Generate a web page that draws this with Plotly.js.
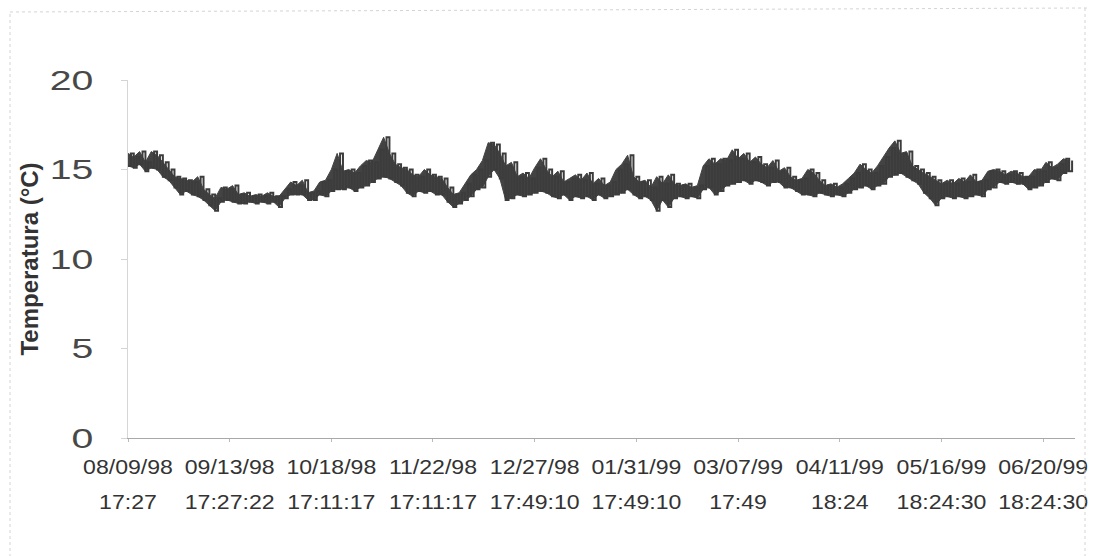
<!DOCTYPE html>
<html><head><meta charset="utf-8">
<script src="https://cdn.plot.ly/plotly-3.0.1.min.js"></script>
<style>html,body{margin:0;padding:0;background:#fff}</style>
</head><body><div id="chart" style="width:1095px;height:556px"></div>
<script>
// ---- data ----
const tickDates = ['1998-08-09 17:27', '1998-09-13 17:27:22', '1998-10-18 17:11:17', '1998-11-22 17:11:17',
  '1998-12-27 17:49:10', '1999-01-31 17:49:10', '1999-03-07 17:49', '1999-04-11 18:24',
  '1999-05-16 18:24:30', '1999-06-20 18:24:30'];
const tickDateLabels = ['08/09/98', '09/13/98', '10/18/98', '11/22/98', '12/27/98', '01/31/99', '03/07/99', '04/11/99', '05/16/99', '06/20/99'];
const tickTimeLabels = ['17:27', '17:27:22', '17:11:17', '17:11:17', '17:49:10', '17:49:10', '17:49', '18:24', '18:24:30', '18:24:30'];
const yTicks = [0, 5, 10, 15, 20];
const seriesStart = '1998-08-09 17:27';
const seriesEnd = '1999-07-01 17:27';
const sampleStepDays = 2;
// lowest and highest temperature read in each 2-day slice
const tempLow = [15.2,15.1,15.3,14.9,15.1,15.0,14.6,14.4,14.0,13.6,13.8,13.6,13.5,13.3,13.0,12.7,13.2,13.3,13.2,13.1,
  13.1,13.2,13.1,13.2,13.1,13.2,12.9,13.4,13.6,13.6,13.6,13.3,13.3,13.6,13.5,13.8,13.9,13.9,14.0,13.8,
  14.0,14.1,14.3,14.5,14.6,14.5,14.3,14.1,13.7,13.5,13.8,13.7,13.8,13.6,13.6,13.2,12.9,13.1,13.3,13.5,
  13.9,14.0,14.6,15.0,14.5,13.3,13.4,13.6,13.5,13.6,13.7,13.8,13.7,13.5,13.4,13.6,13.3,13.5,13.4,13.5,
  13.3,13.6,13.4,13.5,13.6,13.7,13.9,13.6,13.4,13.5,13.3,12.7,13.3,12.9,13.4,13.5,13.4,13.5,13.4,13.9,
  14.0,13.6,13.8,14.1,14.2,14.3,14.4,14.2,14.4,14.3,14.1,14.3,14.3,14.0,14.0,13.8,13.6,13.6,13.5,13.7,
  13.6,13.5,13.6,13.5,13.7,13.9,14.0,14.1,13.9,14.1,14.2,14.6,14.7,14.8,14.6,14.4,14.2,13.7,13.4,13.0,
  13.4,13.5,13.4,13.5,13.4,13.5,13.6,13.5,13.9,14.0,14.3,14.2,14.3,14.2,14.2,13.9,14.0,14.1,14.3,14.5,
  14.4,14.8,14.9];
const tempHigh = [15.9,15.7,16.0,15.4,16.0,15.8,15.4,15.0,14.6,14.5,14.4,14.3,14.6,13.9,13.6,13.4,14.0,13.9,14.1,13.6,
  13.7,13.5,13.6,13.5,13.7,13.5,13.5,13.9,14.3,14.1,14.4,13.7,13.8,14.3,14.4,15.0,15.9,14.9,15.0,14.8,
  15.2,15.5,15.4,16.1,16.8,15.9,15.3,15.1,15.0,14.7,14.6,15.0,14.7,14.6,14.5,14.0,13.6,13.7,14.2,14.7,
  15.0,15.5,16.5,16.4,15.9,15.2,15.4,14.6,14.8,14.5,15.1,15.6,15.0,14.6,14.9,14.3,14.5,14.7,14.4,14.8,
  14.2,14.5,14.1,14.3,15.0,15.3,15.8,14.6,14.3,14.4,14.0,14.6,14.2,14.7,14.2,14.1,14.2,14.0,14.1,15.2,
  15.6,15.3,15.6,15.5,16.1,15.6,15.9,15.4,15.7,15.3,15.1,15.5,14.9,15.1,14.6,14.4,14.5,15.0,14.8,14.4,
  14.1,14.2,14.0,14.2,14.5,14.8,15.3,15.0,14.8,15.2,15.7,16.2,16.6,15.9,16.0,15.2,15.0,14.8,14.6,14.4,
  14.2,14.4,14.2,14.5,14.3,14.7,14.3,14.4,14.9,15.0,14.9,14.7,14.9,14.8,14.6,14.6,15.0,14.9,15.4,15.1,
  15.3,15.6,15.5];

// ---- low / high reading of each slice ----
function fmt(ms) { return new Date(ms).toISOString().slice(0, 19).replace('T', ' '); }
const DAY = 86400000;
const t0 = new Date(seriesStart.replace(' ', 'T') + ':00Z').getTime();
const sampleDates = tempLow.map((_, i) => fmt(t0 + i * sampleStepDays * DAY));
const stepX = [], stepY = [];
tempLow.forEach((lo, i) => {
  const t = t0 + i * sampleStepDays * DAY;
  stepX.push(fmt(t), fmt(t + DAY * sampleStepDays / 2));
  stepY.push(lo, tempHigh[i]);
});

const tickText = tickDateLabels.map((d, i) =>
  "<span style='font-size:21px'>" + d + "</span><br><span style='font-size:21px'>" + tickTimeLabels[i] + "</span>");

const font = 'Liberation Sans, Arial, sans-serif';
const ink = '#3c3c3c';
const band = {
  type: 'scatter', mode: 'lines',
  x: sampleDates.concat(sampleDates.slice().reverse()),
  y: tempHigh.concat(tempLow.slice().reverse()),
  fill: 'toself', fillcolor: '#434343', line: {color: '#434343', width: 1},
  hoverinfo: 'skip', showlegend: false
};
const steps = {
  type: 'scatter', mode: 'lines', x: stepX, y: stepY,
  line: {color: ink, width: 2, shape: 'hv'}, hoverinfo: 'skip', showlegend: false
};

// frame of the scanned page (pixel -> paper)
const L = 128, R = 20, T = 80, B = 118, W = 1095, H = 556;
const pw = W - L - R, ph = H - T - B;
const px = v => (v - L) / pw, py = v => (H - B - v) / ph;
const frameLine = {color: '#d4d4d4', width: 1, dash: 'dot'};
const shapes = [
  {type: 'line', xref: 'paper', yref: 'paper', x0: px(10), x1: px(10), y0: py(14), y1: py(556), line: frameLine},
  {type: 'line', xref: 'paper', yref: 'paper', x0: px(10), x1: px(1088), y0: py(12), y1: py(8), line: frameLine},
  {type: 'line', xref: 'paper', yref: 'paper', x0: px(1085), x1: px(1085), y0: py(8), y1: py(556), line: frameLine}
];

const layout = {
  width: W, height: H,
  margin: {l: L, r: R, t: T, b: B},
  paper_bgcolor: '#ffffff', plot_bgcolor: '#ffffff',
  font: {family: font, color: '#333'},
  showlegend: false,
  shapes: shapes,
  xaxis: {
    type: 'date', range: [seriesStart, seriesEnd],
    tickmode: 'array', tickvals: tickDates, ticktext: tickText,
    tickangle: 0, tickfont: {size: 27, color: '#333', family: font},
    ticks: 'outside', ticklen: 3, tickcolor: '#bbb',
    showline: true, linecolor: '#a8a8a8', linewidth: 1,
    showgrid: false, zeroline: false
  },
  yaxis: {
    range: [0, 20], tickmode: 'array', tickvals: yTicks,
    tickfont: {size: 28, color: '#484848', family: font},
    ticks: 'outside', ticklen: 6, tickcolor: '#d4d4d4',
    ticklabelstandoff: 22,
    showline: true, linecolor: '#d6d6d6', linewidth: 1,
    showgrid: false, zeroline: false,
    title: {text: 'Temperatura (°C)', font: {size: 24, weight: 'bold', color: '#333', family: font}, standoff: 16}
  }
};

Plotly.newPlot('chart', [band, steps], layout, {staticPlot: true, displayModeBar: false}).then(gd => {
  // the scanned lettering is horizontally wide; stretch tick labels around their anchor
  const stretch = (sel, s) => gd.querySelectorAll(sel).forEach(t => {
    const x = parseFloat(t.getAttribute('x') || '0');
    const tr = t.getAttribute('transform') || '';
    t.setAttribute('transform', tr + ' translate(' + x + ',0) scale(' + s + ',1) translate(' + (-x) + ',0)');
  });
  stretch('.xtick text', 1.1);
  stretch('.ytick text', 1.4);
});
</script></body></html>
